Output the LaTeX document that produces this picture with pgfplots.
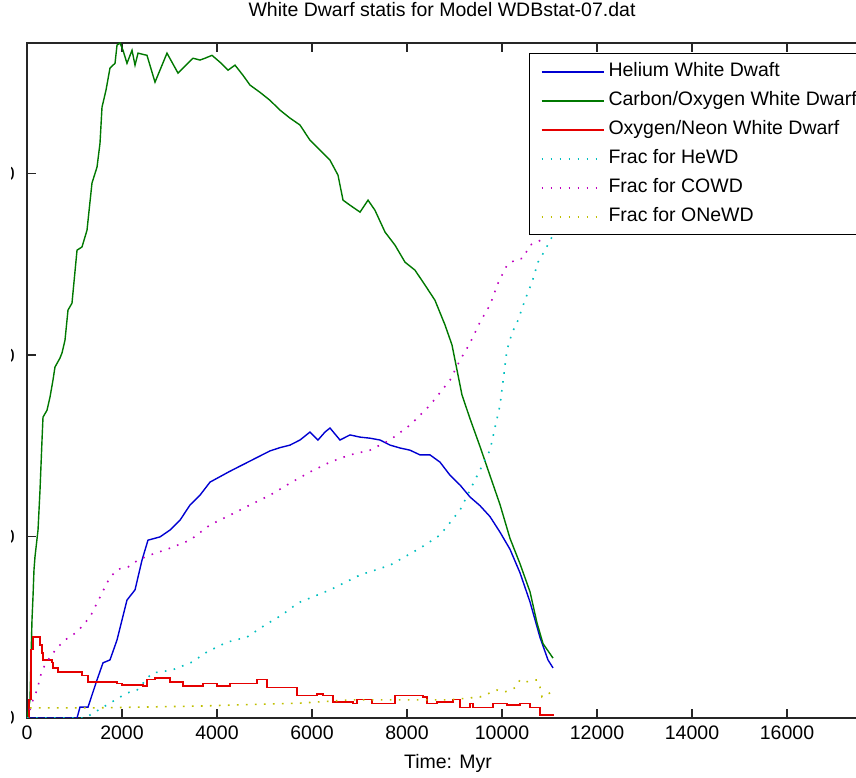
\documentclass[border=0pt]{standalone}
\usepackage{fontspec}
\setmainfont{Liberation Sans}
\usepackage{pgfplots}
\pgfplotsset{compat=1.18}

\definecolor{mblue}{rgb}{0,0,0.82}
\definecolor{mgreen}{rgb}{0,0.47,0}
\definecolor{mred}{rgb}{0.9,0,0}
\definecolor{mcyan}{rgb}{0,0.75,0.75}
\definecolor{mmagenta}{rgb}{0.75,0,0.75}
\definecolor{molive}{rgb}{0.75,0.75,0}

\tikzset{
  heline/.style={draw=mblue, line width=1.4pt},
  coline/.style={draw=mgreen, line width=1.4pt},
  oneline/.style={draw=mred, line width=1.2pt},
  fracdots/.style={line width=1.6pt, dash pattern=on 1.6pt off 7.4pt},
}

\begin{document}
\begin{tikzpicture}[font=\fontsize{19.5}{23.4}\selectfont]
\begin{axis}[
  at={(27pt,60pt)}, anchor=south west,
  scale only axis, width=855pt, height=675pt,
  xmin=0, xmax=18000, ymin=0, ymax=1860,
  xtick={0,2000,...,18000}, ytick={0,500,1000,1500},
  scaled x ticks=false, scaled y ticks=false,
  /pgf/number format/1000 sep={},
  /pgf/number format/assume math mode=true,
  tick align=inside, major tick length=9pt,
  axis line style={line width=1.2pt, black!85},
  every tick/.style={line width=1.2pt, black!85},
  xticklabel style={anchor=base, yshift=-22pt, inner sep=0pt},
  yticklabel style={anchor=base east, xshift=-12pt, yshift=-7pt, inner sep=0pt},
  title={White Dwarf statis for Model WDBstat-07.dat},
  title style={at={(axis description cs:0.4854,1)}, anchor=base, yshift=20pt, inner sep=0pt},
  xlabel={Time: Myr},
  xlabel style={at={(axis description cs:0.4924,0)}, anchor=base, yshift=-50pt, inner sep=0pt},
  legend cell align=left,
  legend image code/.code={\draw[#1, line width=2pt] (0pt,0pt) -- (62pt,0pt);},
  legend style={at={(axis description cs:0.5871,0.9852)}, anchor=north west,
    fill=white, line width=1.2pt,
    inner xsep=11pt, inner ysep=9pt, row sep=11pt, column sep=4pt,
    nodes={inner sep=0pt, text height=14pt, text depth=4pt, font=\fontsize{19.5}{23.4}\selectfont}},
]
% Helium white dwarfs
\addplot[heline] coordinates {
(0,0) (1053,0) (1116,30) (1284,30) (1474,105) (1600,152) (1747,160) (1895,215)
(2105,325) (2274,353) (2421,435) (2547,490) (2800,499) (3011,518) (3221,545)
(3432,587) (3642,614) (3853,650) (4063,665) (4274,680) (4484,694) (4695,708)
(4905,722) (5116,736) (5326,745) (5537,752) (5747,766) (5958,788) (6126,766)
(6274,788) (6379,799) (6589,766) (6800,780) (7011,774) (7221,771) (7432,766)
(7642,752) (7853,744) (8063,738) (8274,725) (8484,725) (8695,705) (8905,669)
(9116,642) (9326,609) (9537,585) (9747,555) (9958,512) (10168,465) (10379,400)
(10589,320) (10800,222) (10968,160) (11074,138)
};
\addlegendentry{Helium White Dwaft}
% Carbon/oxygen white dwarfs
\addplot[coline] coordinates {
(0,0) (63,50) (105,270) (126,333) (147,408) (168,444) (232,518) (274,628)
(316,766) (337,829) (421,848) (484,884) (547,931) (589,967) (695,992) (737,1006)
(800,1041) (863,1124) (947,1143) (1053,1289) (1158,1298) (1263,1344) (1368,1474)
(1474,1518) (1537,1584) (1579,1683) (1663,1730) (1747,1791) (1853,1804)
(1895,1854) (1958,1860) (2021,1840) (2105,1804) (2211,1840) (2274,1799)
(2337,1832) (2526,1826) (2695,1752) (2947,1832) (3179,1777) (3495,1818)
(3642,1813) (3747,1818) (3895,1826) (4063,1807) (4232,1785) (4379,1799)
(4547,1771) (4695,1744) (4905,1724) (5116,1702) (5326,1675) (5537,1653)
(5747,1634) (5958,1592) (6168,1565) (6379,1537) (6547,1496) (6653,1427)
(6800,1413) (7011,1394) (7179,1427) (7326,1399) (7537,1339) (7747,1303)
(7958,1256) (8168,1234) (8379,1193) (8589,1151) (8800,1083) (8947,1028)
(9074,945) (9158,890) (9326,825) (9537,748) (9747,668) (9958,588) (10168,495)
(10379,425) (10589,348) (10737,262) (10863,205) (11074,165)
};
\addlegendentry{Carbon/Oxygen White Dwarf}
% Oxygen/neon white dwarfs
\addplot[oneline, const plot] coordinates {
(0,0) (42,50) (84,188) (126,223) (274,201) (316,179) (337,160) (526,152)
(547,138) (653,127) (1053,127) (1158,118) (1284,99) (1895,96) (2000,91)
(2442,88) (2526,105) (2695,110) (3011,99) (3284,88) (3705,96) (4000,88)
(4274,96) (4842,105) (5053,83) (5537,83) (5684,63) (6105,66) (6232,63)
(6442,44) (6863,41) (6947,50) (7263,41) (7474,41) (7747,61) (8337,58)
(8421,39) (8632,44) (8968,50) (9116,30) (9326,41) (9389,30) (9684,30)
(9811,41) (10105,36) (10379,41) (10589,28) (10800,8) (11074,6)
};
\addlegendentry{Oxygen/Neon White Dwarf}
% Fractions
\addplot[draw=mcyan, fracdots] coordinates {
(0,0) (1053,0) (1221,0) (2105,69) (2316,77) (2632,124) (3053,132) (3474,154)
(3789,182) (4211,209) (4632,223) (5011,256) (5368,284) (5705,317) (6379,353)
(7011,394) (7642,421) (8274,468) (8695,504) (9116,573) (9432,656) (9747,738)
(9958,862) (10105,1014) (10211,1061) (10337,1096) (10484,1152) (10632,1201)
(10758,1256) (10905,1289) (11074,1331)
};
\addlegendentry{Frac for HeWD}
\addplot[draw=mmagenta, fracdots] coordinates {
(63,22) (126,50) (211,77) (316,132) (484,168) (632,193) (800,215) (1053,237)
(1179,256) (1326,278) (1432,306) (1537,333) (1642,361) (1747,388) (1916,410)
(2126,416) (2337,435) (2589,449) (3011,468) (3432,490) (3853,532) (4274,559)
(4695,587) (5116,614) (5537,647) (5958,678) (6379,705) (6800,725) (7221,738)
(7642,766) (8063,807) (8484,862) (8905,931) (9116,986) (9326,1033) (9537,1091)
(9747,1138) (9916,1198) (10105,1248) (10274,1262) (10442,1267) (10589,1303)
(10905,1322)
};
\addlegendentry{Frac for COWD}
\addplot[draw=molive, fracdots] coordinates {
(63,28) (1537,28) (3642,33) (5747,41) (6800,50) (7853,50) (8905,50) (9537,58)
(9895,77) (10063,72) (10274,83) (10379,105) (10484,99) (10737,105) (10800,85)
(10842,58) (11053,72)
};
\addlegendentry{Frac for ONeWD}
\end{axis}
% the tick labels on the left are trimmed to their last stroke
\fill[white] (0pt,0pt) rectangle (11pt,778pt);
\pgfresetboundingbox
\path[use as bounding box] (0pt,0pt) rectangle (856pt,778pt);
\end{tikzpicture}
\end{document}
